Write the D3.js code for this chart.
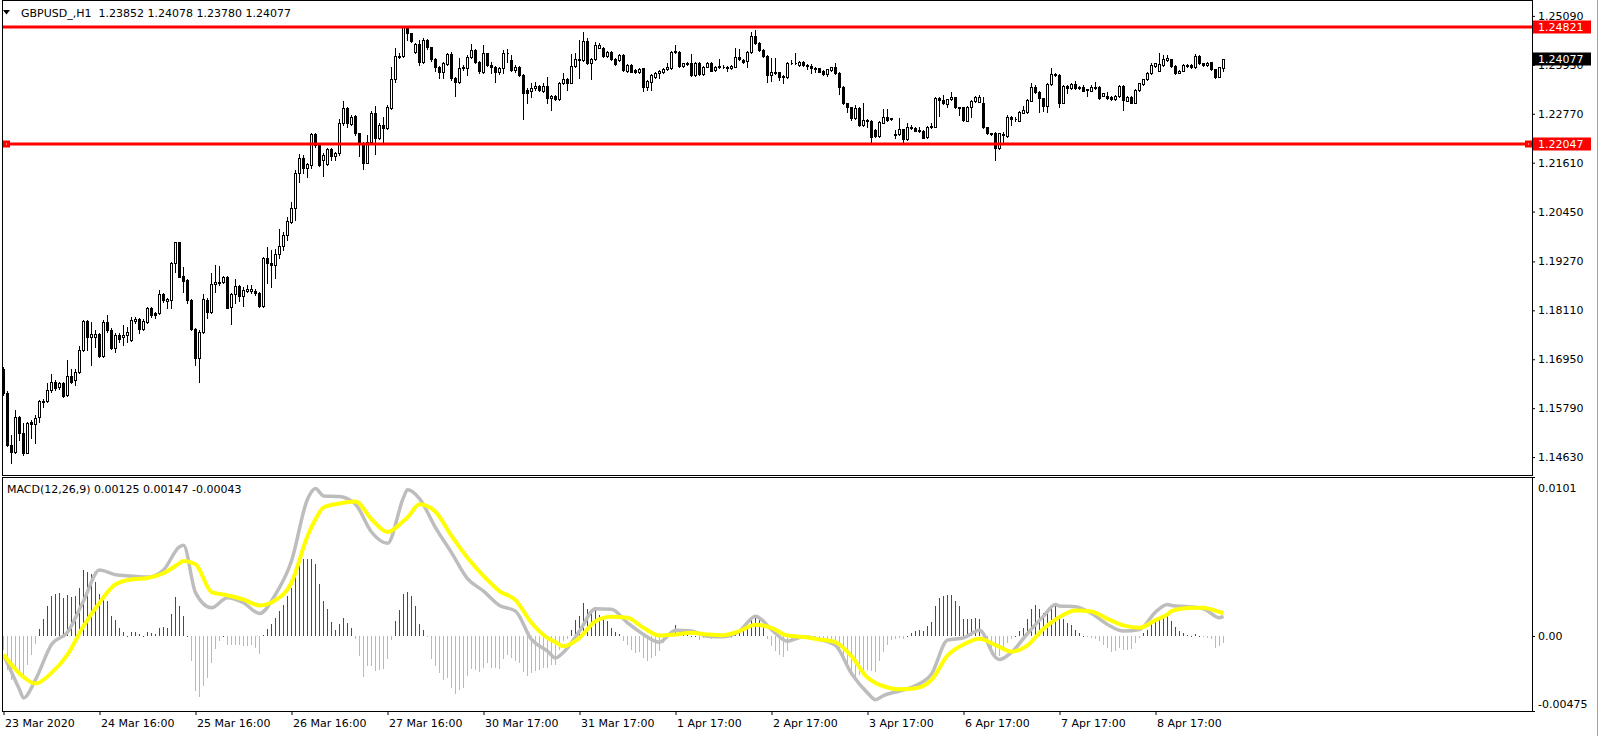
<!DOCTYPE html>
<html><head><meta charset="utf-8">
<script src="https://cdn.jsdelivr.net/npm/d3@7/dist/d3.min.js"></script>
<style>
html,body{margin:0;padding:0;background:#fff;overflow:hidden}
svg{display:block;font-family:"DejaVu Sans",Verdana,sans-serif;font-size:11px}
text{white-space:pre}
</style></head><body>
<svg id="chart" width="1599" height="736"></svg>
<script>
const chartTitle = "GBPUSD_,H1  1.23852 1.24078 1.23780 1.24077";
const macdTitle = "MACD(12,26,9) 0.00125 0.00147 -0.00043";

const opens = [1.16713,1.16144,1.14920,1.14762,1.15575,1.15212,1.14738,1.15465,1.15417,1.15575,
1.15946,1.15962,1.16223,1.16421,1.16286,1.16381,1.16105,1.16563,1.16460,1.16658,
1.17171,1.17858,1.17487,1.17487,1.17550,1.17029,1.17827,1.17645,1.17211,1.17527,
1.17471,1.17527,1.17408,1.17866,1.17906,1.17661,1.17843,1.18159,1.18056,1.18040,
1.18498,1.18340,1.18356,1.19225,1.19723,1.18933,1.18830,1.18356,1.17669,1.16989,
1.17590,1.18356,1.18080,1.18735,1.18767,1.18791,1.18909,1.18198,1.18490,1.18688,
1.18459,1.18577,1.18577,1.18569,1.18515,1.18223,1.19345,1.19226,1.19187,1.19439,
1.19645,1.19898,1.20213,1.20530,1.21359,1.21715,1.21478,1.21557,1.22291,1.22031,
1.21675,1.21572,1.21928,1.21778,1.21833,1.22544,1.22900,1.22528,1.22718,1.22307,
1.22086,1.21612,1.22110,1.22797,1.22189,1.22505,1.22441,1.22900,1.23587,1.24124,
1.24140,1.24819,1.24677,1.24243,1.24424,1.24006,1.24519,1.24345,1.24061,1.23887,
1.23769,1.23942,1.24179,1.23610,1.23516,1.23848,1.23863,1.24124,1.24282,1.24006,
1.23769,1.24203,1.23927,1.23887,1.23769,1.23863,1.24203,1.24045,1.23808,1.23887,
1.23690,1.23334,1.23318,1.23373,1.23429,1.23318,1.23429,1.23137,1.23192,1.23113,
1.23492,1.23587,1.23508,1.23903,1.24045,1.24045,1.24503,1.23966,1.24061,1.24337,
1.24337,1.24140,1.24243,1.24061,1.24045,1.24164,1.23792,1.23927,1.23808,1.23769,
1.23848,1.23413,1.23532,1.23634,1.23729,1.23769,1.23824,1.23848,1.24227,1.24243,
1.23903,1.23966,1.23966,1.23690,1.23982,1.23706,1.23887,1.23982,1.23808,1.23871,
1.23887,1.23871,1.23848,1.23887,1.24108,1.24045,1.24029,1.24243,1.24614,1.24440,
1.24282,1.24140,1.23690,1.23729,1.23753,1.23666,1.23634,1.23982,1.23966,1.23927,
1.24006,1.23927,1.23911,1.23848,1.23848,1.23792,1.23706,1.23808,1.23871,1.23729,
1.23413,1.23018,1.22923,1.22662,1.22900,1.22505,1.22623,1.22607,1.22386,1.22244,
1.22560,1.22702,1.22647,1.22268,1.22283,1.22402,1.22165,1.22426,1.22426,1.22370,
1.22362,1.22213,1.22449,1.22465,1.23137,1.23097,1.23002,1.23113,1.23160,1.22923,
1.22923,1.22607,1.22939,1.23073,1.23058,1.23034,1.22449,1.22307,1.22307,1.21952,
1.22291,1.22244,1.22686,1.22639,1.22607,1.22797,1.22821,1.23081,1.23397,1.23287,
1.23137,1.22955,1.23476,1.23705,1.23689,1.23034,1.23429,1.23374,1.23476,1.23374,
1.23413,1.23334,1.23318,1.23374,1.23413,1.23200,1.23200,1.23176,1.23113,1.23192,
1.23429,1.23081,1.23176,1.23034,1.23334,1.23476,1.23587,1.23729,1.23903,1.23792,
1.23927,1.24045,1.24061,1.23903,1.23745,1.23792,1.23903,1.23927,1.23871,1.24140,
1.23966,1.23927,1.23990,1.23824,1.23650,1.23852];

const highs = [1.16760,1.16207,1.15157,1.15749,1.15607,1.15433,1.15473,1.15512,1.15631,1.15986,
1.16002,1.16381,1.16602,1.16460,1.16421,1.16421,1.16934,1.16713,1.16713,1.17266,
1.17882,1.17882,1.17843,1.17645,1.17566,1.17882,1.18001,1.17685,1.17566,1.17566,
1.17764,1.17724,1.17961,1.17961,1.17922,1.17898,1.18198,1.18182,1.18080,1.18593,
1.18530,1.18395,1.19265,1.19739,1.19739,1.19130,1.18846,1.18372,1.17685,1.17645,
1.18498,1.18395,1.19004,1.19186,1.19162,1.18933,1.18925,1.18514,1.18846,1.18711,
1.18672,1.18711,1.18711,1.18609,1.18555,1.19384,1.19621,1.19542,1.19558,1.20032,
1.19977,1.20316,1.20688,1.21438,1.21809,1.21794,1.21596,1.22307,1.22307,1.22054,
1.21833,1.21967,1.21952,1.21873,1.22639,1.23073,1.22923,1.22742,1.22742,1.22323,
1.22110,1.22268,1.22844,1.22955,1.22544,1.22702,1.22979,1.23887,1.24322,1.24203,
1.24851,1.24851,1.24693,1.24456,1.24519,1.24559,1.24535,1.24361,1.24085,1.23903,
1.24006,1.24203,1.24243,1.23634,1.24085,1.23927,1.24164,1.24424,1.24298,1.24029,
1.24401,1.24219,1.24006,1.23903,1.23887,1.24282,1.24298,1.24164,1.23927,1.23903,
1.23713,1.23373,1.23492,1.23532,1.23453,1.23492,1.23634,1.23216,1.23216,1.23532,
1.23745,1.23610,1.24179,1.24203,1.24519,1.24716,1.24559,1.24085,1.24480,1.24440,
1.24361,1.24266,1.24266,1.24085,1.24179,1.24179,1.23950,1.23942,1.23824,1.23848,
1.23863,1.23571,1.23706,1.23769,1.23808,1.23848,1.23966,1.24258,1.24401,1.24258,
1.23982,1.23990,1.24179,1.23998,1.24006,1.23903,1.23998,1.23998,1.23903,1.24061,
1.23919,1.23903,1.23927,1.24322,1.24298,1.24061,1.24258,1.24716,1.24756,1.24480,
1.24298,1.24164,1.24085,1.24085,1.23769,1.23690,1.24006,1.24045,1.24203,1.24029,
1.24021,1.23942,1.23942,1.23871,1.23863,1.23808,1.23840,1.23887,1.23966,1.23769,
1.23429,1.23034,1.22939,1.22979,1.22923,1.23018,1.22639,1.22623,1.22402,1.22607,
1.22876,1.22876,1.22678,1.22386,1.22662,1.22418,1.22544,1.22505,1.22449,1.22465,
1.22378,1.22481,1.22560,1.23160,1.23176,1.23216,1.23129,1.23295,1.23176,1.22939,
1.22939,1.22955,1.23097,1.23192,1.23216,1.23176,1.22465,1.22323,1.22347,1.22323,
1.22339,1.22741,1.22718,1.22686,1.22836,1.22955,1.23113,1.23492,1.23452,1.23310,
1.23152,1.23492,1.23848,1.23729,1.23705,1.23445,1.23452,1.23492,1.23547,1.23429,
1.23452,1.23366,1.23452,1.23531,1.23429,1.23271,1.23294,1.23192,1.23208,1.23445,
1.23445,1.23192,1.23192,1.23350,1.23508,1.23603,1.23761,1.23966,1.23982,1.24203,
1.24164,1.24164,1.24077,1.23919,1.23808,1.23942,1.23942,1.23942,1.24187,1.24164,
1.23982,1.23998,1.24006,1.23840,1.23887,1.24078];

const lows = [1.16105,1.14896,1.14485,1.14722,1.15038,1.14683,1.14722,1.15078,1.14975,1.15473,
1.15812,1.15946,1.16184,1.16223,1.16239,1.16049,1.16081,1.16381,1.16342,1.16634,
1.17155,1.17171,1.16816,1.17250,1.17013,1.17013,1.17606,1.17187,1.17132,1.17369,
1.17290,1.17369,1.17392,1.17819,1.17566,1.17645,1.17819,1.17961,1.17922,1.18024,
1.18317,1.18159,1.18159,1.19028,1.18893,1.18554,1.18277,1.17645,1.16816,1.16405,
1.17566,1.17922,1.18056,1.18554,1.18711,1.18767,1.18159,1.17779,1.18293,1.18340,
1.18214,1.18554,1.18514,1.18475,1.18199,1.18199,1.18752,1.18673,1.18871,1.19345,
1.19542,1.19779,1.20190,1.20253,1.21162,1.21359,1.21264,1.21478,1.21991,1.21533,
1.21304,1.21549,1.21675,1.21675,1.21794,1.22505,1.22449,1.22505,1.22268,1.21770,
1.21454,1.21596,1.22086,1.21817,1.22165,1.22086,1.22418,1.22876,1.23532,1.24085,
1.24124,1.24519,1.24472,1.24203,1.23927,1.23966,1.24298,1.24029,1.23792,1.23610,
1.23610,1.23919,1.23571,1.23192,1.23492,1.23808,1.23690,1.24100,1.23982,1.23729,
1.23745,1.23903,1.23745,1.23532,1.23706,1.23745,1.24006,1.23792,1.23769,1.23666,
1.22639,1.23018,1.23176,1.23334,1.23310,1.23295,1.23034,1.22860,1.23097,1.23097,
1.23476,1.23334,1.23492,1.23887,1.23610,1.24029,1.23950,1.23587,1.24045,1.24322,
1.24124,1.24124,1.24045,1.23927,1.24029,1.23792,1.23769,1.23753,1.23745,1.23745,
1.23310,1.23334,1.23334,1.23610,1.23610,1.23745,1.23808,1.23832,1.24203,1.23887,
1.23887,1.23927,1.23674,1.23674,1.23690,1.23690,1.23871,1.23776,1.23792,1.23855,
1.23855,1.23784,1.23824,1.23871,1.24045,1.23982,1.23887,1.24219,1.24424,1.24258,
1.24108,1.23532,1.23555,1.23706,1.23571,1.23492,1.23610,1.23942,1.23942,1.23911,
1.23903,1.23824,1.23729,1.23769,1.23753,1.23690,1.23666,1.23792,1.23713,1.23239,
1.23002,1.22821,1.22623,1.22647,1.22481,1.22481,1.22465,1.22070,1.22228,1.22228,
1.22544,1.22607,1.22623,1.22189,1.22268,1.22110,1.22149,1.22410,1.22355,1.22331,
1.22189,1.22197,1.22433,1.22449,1.22718,1.23002,1.22923,1.23097,1.22907,1.22742,
1.22607,1.22591,1.22702,1.23058,1.23042,1.22433,1.22291,1.22268,1.21675,1.21928,
1.22054,1.22228,1.22505,1.22607,1.22591,1.22781,1.22797,1.23065,1.23255,1.22821,
1.22836,1.22821,1.23460,1.23666,1.22939,1.23018,1.23255,1.23358,1.23358,1.23350,
1.23302,1.23192,1.23302,1.23358,1.23121,1.23184,1.23121,1.23097,1.23097,1.23176,
1.22860,1.23065,1.23018,1.23018,1.23318,1.23460,1.23571,1.23713,1.23887,1.23776,
1.23911,1.24029,1.23887,1.23713,1.23729,1.23776,1.23887,1.23855,1.23855,1.23950,
1.23911,1.23911,1.23808,1.23611,1.23634,1.23780];

const closes = [1.16144,1.14920,1.14762,1.15575,1.15212,1.14738,1.15433,1.15417,1.15552,1.15962,
1.15970,1.16223,1.16421,1.16263,1.16381,1.16081,1.16563,1.16421,1.16658,1.17171,
1.17858,1.17487,1.17550,1.17550,1.17037,1.17827,1.17645,1.17211,1.17527,1.17432,
1.17527,1.17606,1.17882,1.17906,1.17661,1.17866,1.18159,1.18001,1.18001,1.18498,
1.18356,1.18372,1.19225,1.19723,1.18909,1.18814,1.18356,1.17669,1.16989,1.17606,
1.18372,1.18080,1.18735,1.18791,1.18791,1.18909,1.18174,1.18490,1.18688,1.18459,
1.18593,1.18609,1.18609,1.18514,1.18223,1.19345,1.19226,1.19187,1.19439,1.19645,
1.19898,1.20229,1.20530,1.21359,1.21715,1.21478,1.21572,1.22291,1.22031,1.21557,
1.21794,1.21936,1.21770,1.21833,1.22544,1.22900,1.22544,1.22702,1.22307,1.22086,
1.21612,1.22110,1.22797,1.22189,1.22505,1.22441,1.22923,1.23587,1.24140,1.24140,
1.24819,1.24677,1.24503,1.24424,1.24006,1.24519,1.24345,1.24061,1.23887,1.23769,
1.23966,1.24179,1.23610,1.23516,1.23863,1.23887,1.24124,1.24282,1.24006,1.23792,
1.24203,1.23927,1.23887,1.23769,1.23863,1.24203,1.24219,1.23808,1.23887,1.23690,
1.23255,1.23255,1.23373,1.23429,1.23334,1.23429,1.23137,1.23192,1.23113,1.23492,
1.23587,1.23508,1.23903,1.24061,1.24061,1.24503,1.23966,1.24061,1.24401,1.24401,
1.24140,1.24243,1.24061,1.23942,1.24164,1.23808,1.23927,1.23769,1.23769,1.23824,
1.23413,1.23547,1.23690,1.23729,1.23784,1.23824,1.23887,1.24243,1.24258,1.23903,
1.23966,1.23950,1.23690,1.23982,1.23706,1.23887,1.23982,1.23792,1.23887,1.23911,
1.23871,1.23863,1.23903,1.24108,1.24061,1.24006,1.24243,1.24614,1.24440,1.24282,
1.24140,1.23690,1.23753,1.23753,1.23650,1.23634,1.23982,1.23966,1.23982,1.24006,
1.23927,1.23911,1.23848,1.23840,1.23769,1.23713,1.23824,1.23871,1.23729,1.23413,
1.23018,1.22923,1.22662,1.22900,1.22505,1.22623,1.22607,1.22228,1.22244,1.22584,
1.22702,1.22623,1.22662,1.22283,1.22402,1.22165,1.22465,1.22465,1.22370,1.22386,
1.22206,1.22465,1.22481,1.23137,1.23097,1.23018,1.23113,1.23160,1.22923,1.22915,
1.22623,1.22939,1.23081,1.23160,1.23176,1.22449,1.22307,1.22291,1.21952,1.22307,
1.22268,1.22702,1.22639,1.22655,1.22821,1.22860,1.23097,1.23397,1.23287,1.23137,
1.22955,1.23476,1.23705,1.23689,1.23034,1.23429,1.23374,1.23476,1.23374,1.23413,
1.23318,1.23350,1.23397,1.23413,1.23137,1.23255,1.23137,1.23113,1.23192,1.23429,
1.23097,1.23176,1.23034,1.23334,1.23492,1.23587,1.23745,1.23927,1.23966,1.23950,
1.24061,1.24085,1.23903,1.23729,1.23792,1.23927,1.23927,1.23871,1.24140,1.23966,
1.23927,1.23982,1.23824,1.23650,1.23871,1.24077];

const macdHist = [-0.00085,-0.00212,-0.00280,-0.00212,-0.00233,-0.00250,-0.00180,-0.00117,-0.00047,0.00047,
0.00112,0.00191,0.00254,0.00265,0.00276,0.00244,0.00259,0.00250,0.00254,0.00307,
0.00420,0.00409,0.00392,0.00346,0.00265,0.00259,0.00223,0.00127,0.00100,0.00053,
0.00028,0.00002,0.00025,0.00028,0.00011,0.00002,0.00028,0.00021,0.00015,0.00053,
0.00057,0.00053,0.00138,0.00248,0.00191,0.00127,0.00004,-0.00159,-0.00350,-0.00388,
-0.00318,-0.00265,-0.00170,-0.00081,-0.00032,0.00004,-0.00057,-0.00053,-0.00053,-0.00057,
-0.00064,-0.00064,-0.00059,-0.00074,-0.00112,0.00006,0.00047,0.00078,0.00117,0.00159,
0.00195,0.00254,0.00307,0.00413,0.00505,0.00492,0.00488,0.00488,0.00456,0.00329,
0.00223,0.00170,0.00091,0.00036,0.00074,0.00117,0.00081,0.00053,-0.00017,-0.00127,
-0.00259,-0.00191,-0.00191,-0.00223,-0.00212,-0.00208,-0.00148,-0.00025,0.00093,0.00165,
0.00265,0.00282,0.00254,0.00191,0.00074,0.00042,-0.00004,-0.00148,-0.00191,-0.00233,
-0.00276,-0.00265,-0.00329,-0.00367,-0.00343,-0.00329,-0.00250,-0.00208,-0.00212,-0.00227,
-0.00201,-0.00170,-0.00201,-0.00201,-0.00206,-0.00148,-0.00117,-0.00138,-0.00159,-0.00170,
-0.00229,-0.00254,-0.00237,-0.00223,-0.00212,-0.00201,-0.00201,-0.00180,-0.00180,-0.00085,
-0.00032,-0.00021,0.00036,0.00102,0.00131,0.00208,0.00170,0.00153,0.00165,0.00134,
0.00131,0.00095,0.00053,0.00025,0.00011,-0.00032,-0.00053,-0.00085,-0.00106,-0.00102,
-0.00138,-0.00159,-0.00138,-0.00127,-0.00095,-0.00042,-0.00011,0.00021,0.00070,0.00047,
0.00038,0.00032,0.00004,0.00001,-0.00025,-0.00011,-0.00004,-0.00017,-0.00011,-0.00011,
-0.00011,-0.00011,-0.00011,0.00017,0.00025,0.00032,0.00047,0.00117,0.00127,0.00102,
0.00064,-0.00017,-0.00064,-0.00095,-0.00117,-0.00134,-0.00095,-0.00038,-0.00021,-0.00011,
-0.00017,-0.00011,-0.00011,-0.00025,-0.00025,-0.00032,-0.00032,-0.00042,-0.00064,-0.00106,
-0.00148,-0.00191,-0.00233,-0.00259,-0.00244,-0.00227,-0.00212,-0.00223,-0.00229,-0.00159,
-0.00102,-0.00053,-0.00025,-0.00017,-0.00011,-0.00021,0.00001,0.00021,0.00032,0.00042,
0.00032,0.00064,0.00089,0.00191,0.00244,0.00254,0.00259,0.00259,0.00223,0.00191,
0.00110,0.00110,0.00110,0.00117,0.00106,0.00021,-0.00064,-0.00117,-0.00148,-0.00127,
-0.00074,-0.00042,-0.00021,0.00001,0.00032,0.00053,0.00106,0.00174,0.00195,0.00174,
0.00148,0.00159,0.00191,0.00206,0.00127,0.00106,0.00081,0.00068,0.00036,0.00021,
0.00004,-0.00004,-0.00011,-0.00021,-0.00032,-0.00053,-0.00074,-0.00102,-0.00095,-0.00074,
-0.00085,-0.00085,-0.00081,-0.00042,-0.00011,0.00017,0.00042,0.00095,0.00110,0.00121,
0.00134,0.00127,0.00095,0.00059,0.00032,0.00021,0.00006,0.00004,0.00011,0.00004,
-0.00004,-0.00011,-0.00021,-0.00074,-0.00064,-0.00043];

// MACD main / signal lines, read at these bar indices
const macdIdx = [0,4,5,8,12,16,20,24,28,32,36,40,44,45,48,52,56,60,64,68,72,76,78,80,84,88,92,96,100,101,104,108,112,116,120,124,128,132,136,138,140,144,148,152,156,160,164,168,172,176,180,184,188,192,196,200,204,208,212,216,218,220,224,228,232,236,240,244,248,249,252,256,260,263,264,268,272,276,280,284,288,291,292,296,300,304,305];
const macdMain = [-0.00117,-0.00339,-0.00392,-0.00276,-0.00053,0.00025,0.00223,0.00420,0.00390,0.00382,0.00375,0.00420,0.00568,0.00577,0.00276,0.00180,0.00244,0.00212,0.00144,0.00265,0.00477,0.00869,0.00937,0.00890,0.00886,0.00837,0.00661,0.00589,0.00880,0.00929,0.00873,0.00689,0.00530,0.00365,0.00286,0.00195,0.00159,-0.00021,-0.00095,-0.00138,-0.00102,0.00032,0.00174,0.00170,0.00085,0.00011,-0.00038,0.00038,0.00032,0.00000,-0.00004,0.00032,0.00127,0.00042,-0.00032,-0.00004,-0.00021,-0.00059,-0.00237,-0.00360,-0.00403,-0.00377,-0.00348,-0.00314,-0.00240,-0.00025,-0.00011,0.00038,-0.00134,-0.00148,-0.00102,0.00017,0.00127,0.00201,0.00191,0.00187,0.00144,0.00074,0.00032,0.00042,0.00153,0.00201,0.00195,0.00187,0.00174,0.00117,0.00125];
const macdSignal = [-0.00117,-0.00237,-0.00259,-0.00301,-0.00233,-0.00117,0.00064,0.00212,0.00329,0.00360,0.00369,0.00399,0.00462,0.00477,0.00456,0.00280,0.00259,0.00233,0.00195,0.00229,0.00339,0.00636,0.00742,0.00816,0.00842,0.00854,0.00742,0.00661,0.00731,0.00753,0.00837,0.00789,0.00636,0.00498,0.00382,0.00286,0.00229,0.00085,-0.00011,-0.00038,-0.00064,-0.00011,0.00095,0.00123,0.00117,0.00053,0.00004,0.00011,0.00021,0.00011,0.00006,0.00032,0.00072,0.00053,0.00004,-0.00006,-0.00021,-0.00038,-0.00127,-0.00263,-0.00297,-0.00318,-0.00337,-0.00331,-0.00278,-0.00123,-0.00053,-0.00017,-0.00057,-0.00068,-0.00098,-0.00059,0.00047,0.00106,0.00121,0.00163,0.00157,0.00110,0.00068,0.00053,0.00102,0.00138,0.00159,0.00178,0.00180,0.00153,0.00147];

const priceTicks = [1.25090,1.23930,1.22770,1.21610,1.20450,1.19270,1.18110,1.16950,1.15790,1.14630];
const macdTicks = [0.0101, 0.00, -0.00475];
const macdTickLabels = ["0.0101", "0.00", "-0.00475"];
const timeIdx = [0,24,48,72,96,120,144,168,192,216,240,264,288];
const timeLabels = ["23 Mar 2020","24 Mar 16:00","25 Mar 16:00","26 Mar 16:00","27 Mar 16:00","30 Mar 17:00","31 Mar 17:00","1 Apr 17:00","2 Apr 17:00","3 Apr 17:00","6 Apr 17:00","7 Apr 17:00","8 Apr 17:00"];
const levelPrices = [1.24821, 1.22047];
const lastPrice = 1.24077;

// ---------- layout ----------
const svg = d3.select('#chart');
const L = 2, R = 1532, pTop = 0, pBot = 475, mTop = 477, mBot = 711;
const x = d3.scaleLinear().domain([0, 305]).range([3.5, 1223.5]);
const yP = d3.scaleLinear().domain([1.14630, 1.25090]).range([457.1, 15.9]);
const yM = d3.scaleLinear().domain([-0.00475, 0.0101]).range([mBot, mTop]);

const defs = svg.append('defs');
defs.append('clipPath').attr('id','clipP').append('rect').attr('x',L).attr('y',pTop).attr('width',R-L).attr('height',pBot-pTop);
defs.append('clipPath').attr('id','clipM').append('rect').attr('x',L+1).attr('y',mTop+1).attr('width',R-L-1).attr('height',mBot-mTop-1);

svg.append('rect').attr('width',1599).attr('height',736).attr('fill','#fff');

// ---------- candles ----------
const idx = d3.range(closes.length);
const gP = svg.append('g').attr('clip-path','url(#clipP)').attr('shape-rendering','crispEdges');
gP.selectAll('rect.wick').data(idx).join('rect').attr('class','wick')
  .attr('x', i => x(i) - 0.5)
  .attr('y', i => Math.round(yP(Math.max(highs[i], opens[i], closes[i]))))
  .attr('width', 1)
  .attr('height', i => Math.round(yP(Math.min(lows[i], opens[i], closes[i]))) - Math.round(yP(Math.max(highs[i], opens[i], closes[i]))) + 1)
  .attr('fill', '#000');
gP.selectAll('path.body').data(idx).join('path').attr('class','body')
  .attr('d', i => {
    const t = Math.round(yP(Math.max(opens[i], closes[i])));
    const b = Math.round(yP(Math.min(opens[i], closes[i])));
    const cx = x(i);
    return `M${cx-1},${t+0.5}H${cx+1}V${b+0.5}H${cx-1}Z`;
  })
  .attr('fill', i => closes[i] >= opens[i] ? '#fff' : '#000')
  .attr('stroke', '#000').attr('stroke-width', 1);

// ---------- horizontal levels ----------
const gLv = svg.append('g');
levelPrices.forEach(p => {
  const yy = Math.round(yP(p));
  gLv.append('rect').attr('x', L + 1).attr('y', yy - 1.5).attr('width', R - L - 1).attr('height', 3).attr('fill', '#ff0000');
});
// selection markers on the lower level
{
  const yy = Math.round(yP(levelPrices[1]));
  [3, 1525].forEach(mx => {
    gLv.append('rect').attr('x', mx).attr('y', yy - 3.5).attr('width', 7).attr('height', 7).attr('fill', '#ff0000');
    gLv.append('rect').attr('x', mx + 3).attr('y', yy - 0.5).attr('width', 1).attr('height', 1).attr('fill', '#fff');
  });
}

// ---------- frames ----------
const frame = svg.append('g').attr('fill','none').attr('stroke','#000').attr('stroke-width',1).attr('shape-rendering','crispEdges');
frame.append('rect').attr('x', L + 0.5).attr('y', pTop + 0.5).attr('width', R - L).attr('height', pBot - pTop);
frame.append('rect').attr('x', L + 0.5).attr('y', mTop + 0.5).attr('width', R - L).attr('height', mBot - mTop);
svg.append('line').attr('x1',1597.5).attr('x2',1597.5).attr('y1',0).attr('y2',736).attr('stroke','#a0a0a0');

// ---------- price axis ----------
const axP = svg.append('g').attr('transform', `translate(${R},0)`)
  .call(d3.axisRight(yP).tickValues(priceTicks).tickSize(3).tickPadding(3).tickFormat(d => d.toFixed(5)));
axP.select('.domain').remove();
axP.attr('font-family', '"DejaVu Sans",Verdana,sans-serif').attr('font-size', 11).attr('color', '#000');

// level & last price labels
function priceBox(p, bg) {
  const yy = Math.round(yP(p));
  svg.append('rect').attr('x', R + 1).attr('y', yy - 6.5).attr('width', 58).attr('height', 13).attr('fill', bg);
  svg.append('text').attr('x', R + 6).attr('y', yy + 4).attr('fill', '#fff').text(p.toFixed(5));
}
priceBox(levelPrices[0], '#ff0000');
priceBox(levelPrices[1], '#ff0000');
priceBox(lastPrice, '#000');

// ---------- title ----------
svg.append('path').attr('d', 'M3,10 L10,10 L6.5,14.5 Z').attr('fill', '#000');
svg.append('text').attr('x', 21).attr('y', 17).attr('fill', '#000').text(chartTitle);

// ---------- MACD ----------
const gM = svg.append('g').attr('clip-path', 'url(#clipM)');
const y0 = Math.round(yM(0));
gM.append('g').attr('shape-rendering','crispEdges').selectAll('rect').data(idx).join('rect')
  .attr('x', i => x(i) - 0.5)
  .attr('y', i => Math.min(y0, Math.round(yM(macdHist[i]))))
  .attr('width', 1)
  .attr('height', i => Math.max(1, Math.abs(Math.round(yM(macdHist[i])) - y0)))
  .attr('fill', i => macdHist[i] >= 0 ? '#b01e1e' : '#62dde6');

const ks = d3.range(macdIdx.length);
gM.append('path').datum(ks)
  .attr('d', d3.line().x(k => x(macdIdx[k])).y(k => yM(macdMain[k])).curve(d3.curveMonotoneX))
  .attr('fill', 'none').attr('stroke', '#bdbdbd').attr('stroke-width', 3.5).attr('stroke-linejoin','round');
gM.append('path').datum(ks)
  .attr('d', d3.line().x(k => x(macdIdx[k])).y(k => yM(macdSignal[k])).curve(d3.curveMonotoneX))
  .attr('fill', 'none').attr('stroke', '#ffff00').attr('stroke-width', 4).attr('stroke-linejoin','round');

svg.append('text').attr('x', 7).attr('y', 493).attr('fill', '#000').text(macdTitle);

// MACD axis
const axM = svg.append('g');
macdTicks.forEach((v, k) => {
  const ty = yM(v);
  const ly = Math.min(Math.max(ty, mTop + 10.5), mBot - 7.5);
  axM.append('line').attr('x1', R).attr('x2', R + 3).attr('y1', Math.round(ty) + 0.5).attr('y2', Math.round(ty) + 0.5).attr('stroke', '#000');
  axM.append('text').attr('x', R + 6).attr('y', ly + 4).attr('fill', '#000').text(macdTickLabels[k]);
});

// ---------- time axis ----------
const axT = svg.append('g').attr('transform', `translate(0,${mBot})`)
  .call(d3.axisBottom(x).tickValues(timeIdx).tickSize(4).tickPadding(4).tickFormat((d, k) => timeLabels[k]));
axT.select('.domain').remove();
axT.attr('font-family', '"DejaVu Sans",Verdana,sans-serif').attr('font-size', 11).attr('color', '#000');
axT.selectAll('text').attr('text-anchor', 'start').attr('x', 1);
</script>
</body></html>
